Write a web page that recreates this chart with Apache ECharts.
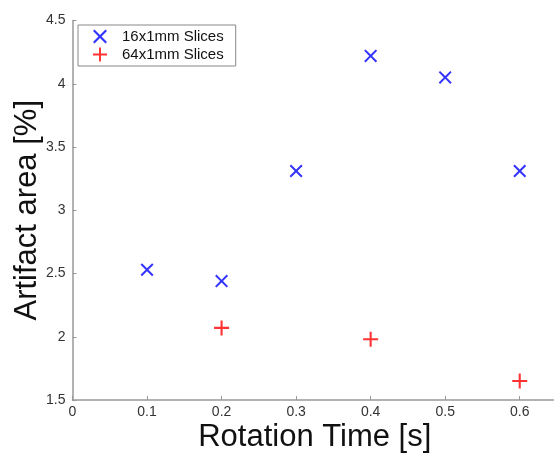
<!DOCTYPE html>
<html>
<head>
<meta charset="utf-8">
<script src="https://cdn.jsdelivr.net/npm/echarts@6/dist/echarts.min.js"></script>
<style>
	html, body { margin: 0; padding: 0; background: #fff; }
	#chart { width: 554px; height: 454px; }
</style>
</head>
<body>
<div id="chart"></div>
<script type="text/javascript">
	// rotation time [s] and artifact area [%]
	var times16 = [0.1, 0.2, 0.3, 0.4, 0.5, 0.6];
	var area16 = [2.53, 2.44, 3.31, 4.22, 4.05, 3.31];
	var times64 = [0.2, 0.4, 0.6];
	var area64 = [2.07, 1.98, 1.65];
	var seriesNames = ['16x1mm Slices', '64x1mm Slices'];

	// marker shapes (matlab 'x' and '+')
	var crossPath = 'path://M0,1.1L1.1,0L5,3.9L8.9,0L10,1.1L6.1,5L10,8.9L8.9,10L5,6.1L1.1,10L0,8.9L3.9,5Z';
	var plusPath = 'path://M4.3,0H5.7V4.3H10V5.7H5.7V10H4.3V5.7H0V4.3H4.3Z';

	function pairs(xs, ys) {
		var out = [];
		for (var i = 0; i < xs.length; i++) out.push([xs[i], ys[i]]);
		return out;
	}

	var font = 'Liberation Sans, Arial, sans-serif';
	var myChart = echarts.init(document.getElementById('chart'));
	var option = {
		animation: false,
		backgroundColor: '#fff',
		grid: { left: 72.5, top: 20.5, right: -3, bottom: 54, containLabel: false, outerBoundsMode: 'none' },
		legend: {
			orient: 'vertical',
			left: 78, top: 25,
			padding: [4, 12, 4, 15],
			itemGap: 3,
			itemWidth: 14, itemHeight: 14,
			backgroundColor: '#fff',
			borderColor: '#888', borderWidth: 1,
			textStyle: { fontFamily: font, fontSize: 15, color: '#111', padding: [0, 0, 0, 10] },
			data: seriesNames
		},
		xAxis: {
			type: 'value',
			min: 0, max: 0.65, interval: 0.1,
			name: 'Rotation Time [s]',
			nameLocation: 'middle', nameGap: 22, nameMoveOverlap: false,
			nameTextStyle: { fontFamily: font, fontSize: 31, color: '#111' },
			axisLine: { show: true, lineStyle: { color: '#999', width: 1.5 } },
			axisTick: { show: true, inside: true, length: 4, lineStyle: { color: '#999' } },
			axisLabel: {
				fontFamily: font, fontSize: 14, color: '#333', margin: 5, showMaxLabel: false,
				formatter: function (v) { return Math.abs(v * 10 - Math.round(v * 10)) < 1e-6 ? String(+v.toFixed(1)) : ''; }
			},
			splitLine: { show: false }
		},
		yAxis: {
			type: 'value',
			min: 1.5, max: 4.5, interval: 0.5,
			name: 'Artifact area [%]',
			nameLocation: 'middle', nameGap: 30, nameMoveOverlap: false,
			nameTextStyle: { fontFamily: font, fontSize: 31, color: '#111' },
			axisLine: { show: true, lineStyle: { color: '#999', width: 1.5 } },
			axisTick: { show: true, inside: true, length: 4, lineStyle: { color: '#999' } },
			axisLabel: { fontFamily: font, fontSize: 14, color: '#333', margin: 7 },
			splitLine: { show: false }
		},
		series: [
			{
				name: seriesNames[0],
				type: 'scatter',
				symbol: crossPath,
				symbolSize: 13,
				itemStyle: { color: '#0000ff' },
				data: pairs(times16, area16)
			},
			{
				name: seriesNames[1],
				type: 'scatter',
				symbol: plusPath,
				symbolSize: 15,
				itemStyle: { color: '#ff0000' },
				data: pairs(times64, area64)
			}
		]
	};
	myChart.setOption(option);
</script>
</body>
</html>
